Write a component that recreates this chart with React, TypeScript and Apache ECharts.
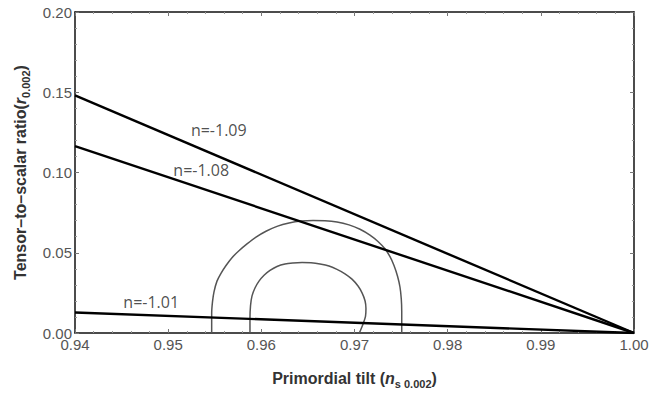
import React, { useEffect, useRef } from "react";
import * as echarts from "echarts";

// Straight model lines: [ns, r] end points
const lineNames = ["n=-1.09", "n=-1.08", "n=-1.01"];
const lineN109 = [[0.94, 0.148], [1.0, 0.0]];
const lineN108 = [[0.94, 0.1165], [1.0, 0.0]];
const lineN101 = [[0.94, 0.0128], [1.0, 0.0]];

// Planck-like contours (outer 95%, inner 68%)
const outerContour = [
  [0.95467, 0.0], [0.95467, 0.0122], [0.95476, 0.01951], [0.95492, 0.02561],
  [0.95524, 0.03232], [0.95567, 0.0372], [0.95621, 0.04207], [0.95685, 0.04695],
  [0.9576, 0.05122], [0.95846, 0.05549], [0.95943, 0.05976], [0.9605, 0.06341],
  [0.96168, 0.06646], [0.96297, 0.0686], [0.96426, 0.06982], [0.96555, 0.07012],
  [0.96683, 0.07], [0.96812, 0.06921], [0.96941, 0.06738], [0.97059, 0.06463],
  [0.97166, 0.06098], [0.97252, 0.05701], [0.97327, 0.05244], [0.97381, 0.04756],
  [0.97424, 0.04207], [0.97462, 0.03537], [0.97488, 0.02866], [0.97502, 0.02134],
  [0.97507, 0.01341], [0.97507, 0.0],
];
const innerContour = [
  [0.95878, 0.0], [0.95878, 0.00915], [0.95884, 0.01707], [0.959, 0.02317],
  [0.95932, 0.02805], [0.95975, 0.03232], [0.96029, 0.03598], [0.96093, 0.03902],
  [0.96168, 0.04146], [0.96254, 0.04299], [0.9634, 0.0436], [0.96437, 0.0439],
  [0.96533, 0.04372], [0.9663, 0.04299], [0.96726, 0.04177], [0.96812, 0.03963],
  [0.96898, 0.03689], [0.96973, 0.03354], [0.97038, 0.02927], [0.97081, 0.025],
  [0.97113, 0.02012], [0.97123, 0.01524], [0.97118, 0.01037], [0.97091, 0.00549],
  [0.97052, 0.0],
];

// In-plot annotation positions (data coordinates)
const annotTexts = ["n=-1.09", "n=-1.08", "n=-1.01"];
const annotX = [0.95543, 0.95355, 0.94818];
const annotY = [0.1264, 0.1016, 0.0193];

const xMin = 0.94, xMax = 1.0, xStep = 0.01;
const yMin = 0.0, yMax = 0.2, yStep = 0.05;

const tickFont = "'Liberation Sans', Arial, sans-serif";

const richName = {
  b: { fontFamily: tickFont, fontWeight: "bold", fontSize: 16, color: "#333", lineHeight: 22, verticalAlign: "middle" },
  i: { fontFamily: tickFont, fontWeight: "bold", fontStyle: "italic", fontSize: 16, color: "#333", lineHeight: 22, verticalAlign: "middle" },
  sub: { fontFamily: tickFont, fontWeight: "bold", fontSize: 11, color: "#333", lineHeight: 12, verticalAlign: "bottom" },
};

export default function App() {
  const ref = useRef<HTMLDivElement>(null);
  useEffect(() => {
    if (!ref.current) return;
    const chart = echarts.init(ref.current, null, { renderer: "svg" });
    const frameAxisLine = { show: true, onZero: false, lineStyle: { color: "#111", width: 1.5 } };
    const majorTick = { show: true, inside: true, length: 4, lineStyle: { color: "#777", width: 1 } };
    const minorTick = { show: true, splitNumber: 5, length: 2, lineStyle: { color: "#999", width: 1 } };
    const lineSeries = (name: string, data: number[][]) => ({
      name,
      type: "line",
      data,
      symbol: "none",
      lineStyle: { color: "#000", width: 2.4 },
      z: 3,
    });
    const contourSeries = (data: number[][]) => ({
      type: "line",
      data,
      symbol: "none",
      smooth: 0.3,
      lineStyle: { color: "#555", width: 1.5 },
      z: 2,
    });
    chart.setOption({
      animation: false,
      backgroundColor: "#fff",
      grid: { left: 75, right: 18, top: 12, bottom: 54, containLabel: false },
      xAxis: [
        {
          type: "value",
          min: xMin,
          max: xMax,
          interval: xStep,
          position: "bottom",
          name: "{b|Primordial tilt (}{i|n}{sub|s 0.002}{b|)}",
          nameLocation: "middle",
          nameGap: 34,
          nameTextStyle: { rich: richName },
          axisLine: frameAxisLine,
          axisTick: majorTick,
          minorTick,
          splitLine: { show: false },
          axisLabel: {
            color: "#555",
            fontFamily: tickFont,
            fontSize: 15,
            margin: 4,
            formatter: (v: number) => v.toFixed(2),
          },
        },
        {
          type: "value",
          min: xMin,
          max: xMax,
          interval: xStep,
          position: "top",
          axisLine: frameAxisLine,
          axisTick: majorTick,
          minorTick,
          splitLine: { show: false },
          axisLabel: { show: false },
        },
      ],
      yAxis: [
        {
          type: "value",
          min: yMin,
          max: yMax,
          interval: yStep,
          position: "left",
          name: "{b|Tensor–to–scalar ratio(}{i|r}{sub|0.002}{b|)}",
          nameLocation: "middle",
          nameGap: 42,
          nameTextStyle: { rich: richName },
          axisLine: frameAxisLine,
          axisTick: majorTick,
          minorTick,
          splitLine: { show: false },
          axisLabel: {
            color: "#555",
            fontFamily: tickFont,
            fontSize: 15,
            margin: 3,
            formatter: (v: number) => v.toFixed(2),
          },
        },
        {
          type: "value",
          min: yMin,
          max: yMax,
          interval: yStep,
          position: "right",
          axisLine: frameAxisLine,
          axisTick: majorTick,
          minorTick,
          splitLine: { show: false },
          axisLabel: { show: false },
        },
      ],
      series: [
        contourSeries(outerContour),
        contourSeries(innerContour),
        lineSeries(lineNames[0], lineN109),
        lineSeries(lineNames[1], lineN108),
        lineSeries(lineNames[2], lineN101),
        {
          type: "scatter",
          symbolSize: 1,
          itemStyle: { color: "transparent" },
          data: annotTexts.map((t, i) => ({ value: [annotX[i], annotY[i]], name: t })),
          label: {
            show: true,
            position: "inside",
            formatter: (p: any) => p.name,
            color: "#222",
            fontFamily: "'Open Sans', sans-serif",
            fontSize: 16,
          },
          z: 4,
        },
      ],
    });
    return () => chart.dispose();
  }, []);
  return (
    <div
      ref={ref}
      style={{ position: "fixed", left: 0, top: 0, width: 652, height: 394, background: "#fff" }}
    />
  );
}
